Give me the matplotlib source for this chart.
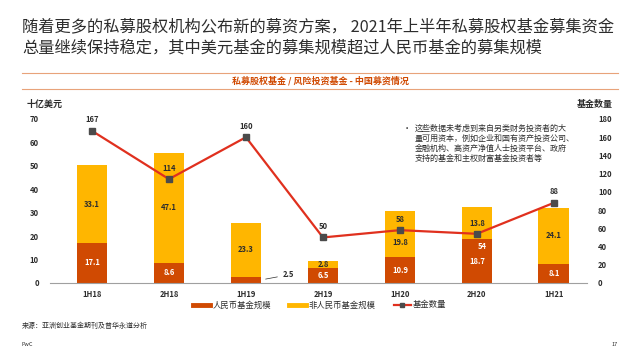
import matplotlib
matplotlib.use('Agg')
import matplotlib.pyplot as plt
from matplotlib.lines import Line2D
import numpy as np

plt.rcParams['font.family'] = ['Noto Sans CJK SC', 'DejaVu Sans']

# data
periods = ['1H18', '2H18', '1H19', '2H19', '1H20', '2H20', '1H21']
rmb = [17.1, 8.6, 2.5, 6.5, 10.9, 18.7, 8.1]
non_rmb = [33.1, 47.1, 23.3, 2.8, 19.8, 13.8, 24.1]
fund_count = [167, 114, 160, 50, 58, 54, 88]

C_RMB = '#D04A02'
C_NON = '#FFB600'
C_LINE = '#E0301E'
C_MARK = '#4B4B4B'
C_TEXT = '#2D2D2D'

fig = plt.figure(figsize=(6.4, 3.6), dpi=100)
fig.patch.set_facecolor('white')

# headline
fig.text(22 / 640, 1 - 27 / 360, '随着更多的私募股权机构公布新的募资方案， 2021年上半年私募股权基金募集资金',
         fontsize=11.7, color=C_TEXT, va='center', ha='left')
fig.text(22 / 640, 1 - 48 / 360, '总量继续保持稳定，其中美元基金的募集规模超过人民币基金的募集规模',
         fontsize=11.7, color=C_TEXT, va='center', ha='left')

# banner
for yy in (73, 89):
    fig.add_artist(Line2D([22 / 640, 618 / 640], [1 - yy / 360] * 2, color='#E8A37A', lw=0.8))
fig.text(0.5, 1 - 81 / 360, '私募股权基金 / 风险投资基金 - 中国募资情况', fontsize=6.5,
         color=C_RMB, fontweight='bold', ha='center', va='center')

ax = fig.add_axes([50 / 640, 1 - 283 / 360, (587 - 50) / 640, (283 - 119) / 360])
ax2 = ax.twinx()

x = np.arange(len(periods))
w = 0.40
ax.bar(x, rmb, w, color=C_RMB, zorder=2)
ax.bar(x, non_rmb, w, bottom=rmb, color=C_NON, zorder=2)

ax.set_xlim(-0.545, 6.43)
ax.set_ylim(0, 70)
ax.set_yticks(range(0, 71, 10))
ax2.set_ylim(0, 180)
ax2.set_yticks(range(0, 181, 20))

for a in (ax, ax2):
    for s in a.spines.values():
        s.set_visible(False)
    a.tick_params(length=0, labelsize=5.5, colors=C_TEXT)
ax.spines['bottom'].set_visible(True)
ax.spines['bottom'].set_color('#A0A0A0')
ax.spines['bottom'].set_linewidth(0.8)
ax.set_xticks(x)
ax.set_xticklabels(periods, fontweight='bold')
for lab in ax.get_yticklabels() + ax2.get_yticklabels():
    lab.set_fontweight('bold')
ax.tick_params(axis='y', pad=8)
ax.tick_params(axis='x', pad=5)
ax2.tick_params(axis='y', pad=8)

# bar labels
for i in range(len(periods)):
    if i == 2:
        ax.annotate(f'{rmb[i]}', xy=(i + w / 2 + 0.02, rmb[i] / 2 + 0.2),
                    xytext=(i + w / 2 + 0.28, 3.5), fontsize=5.5, fontweight='bold',
                    color=C_TEXT, va='center', ha='left',
                    arrowprops=dict(arrowstyle='-', color=C_TEXT, lw=0.5))
    else:
        ax.text(i, rmb[i] / 2, f'{rmb[i]}', ha='center', va='center', fontsize=5.5,
                fontweight='bold', color='white', zorder=3)
    ymid = rmb[i] + non_rmb[i] / 2
    if i == 4:
        ymid -= 3.6  # moved down clear of the line label
    ax.text(i, ymid, f'{non_rmb[i]}', ha='center', va='center',
            fontsize=5.5, fontweight='bold', color=C_TEXT, zorder=3)

# fund count line
ax2.plot(x, fund_count, color=C_LINE, lw=1.6, marker='s', markersize=4.2,
         markerfacecolor=C_MARK, markeredgecolor=C_MARK, zorder=4)
for i, v in enumerate(fund_count):
    if i == 5:
        ax2.annotate(f'{v}', (i, v), xytext=(4, -9), textcoords='offset points',
                     ha='center', va='center', fontsize=5.5, fontweight='bold', color='white')
    else:
        ax2.annotate(f'{v}', (i, v), xytext=(0, 8), textcoords='offset points',
                     ha='center', va='center', fontsize=5.5, fontweight='bold', color=C_TEXT)

# axis titles
fig.text(27 / 640, 1 - 104 / 360, '十亿美元', fontsize=6.5, fontweight='bold',
         color=C_TEXT, ha='left', va='center')
fig.text(613 / 640, 1 - 104 / 360, '基金数量', fontsize=6.5, fontweight='bold',
         color=C_TEXT, ha='right', va='center')

# note
fig.text(403 / 640, 1 - 128 / 360, '•', fontsize=6, color=C_TEXT, ha='left', va='center')
note = ['这些数据未考虑到来自另类财务投资者的大', '量可用资本，例如企业和国有资产投资公司、',
        '金融机构、高资产净值人士投资平台、政府', '支持的基金和主权财富基金投资者等']
for k, line in enumerate(note):
    fig.text(415 / 640, 1 - (128 + k * 10.2) / 360, line, fontsize=5.8, color=C_TEXT,
             ha='left', va='center')

# legend
handles = [Line2D([], [], color=C_RMB, lw=3.5),
           Line2D([], [], color=C_NON, lw=3.5),
           Line2D([], [], color=C_LINE, lw=1.6, marker='s', markersize=3.5,
                  markerfacecolor=C_MARK, markeredgecolor=C_MARK)]
fig.legend(handles, ['人民币基金规模', '非人民币基金规模', '基金数量'], loc='center',
           bbox_to_anchor=(0.5, 1 - 305 / 360), ncol=3, frameon=False, fontsize=6,
           handlelength=2.0, handletextpad=0.3, columnspacing=2.2, labelcolor=C_TEXT)

fig.text(22 / 640, 1 - 326 / 360, '来源：亚洲创业基金期刊及普华永道分析', fontsize=5,
         color=C_TEXT, ha='left', va='center')
fig.text(22 / 640, 1 - 344 / 360, 'PwC', fontsize=4, color=C_TEXT, ha='left', va='center')
fig.text(618 / 640, 1 - 344 / 360, '17', fontsize=4, color=C_TEXT, ha='right', va='center')

fig.savefig('out.png', dpi=100)
